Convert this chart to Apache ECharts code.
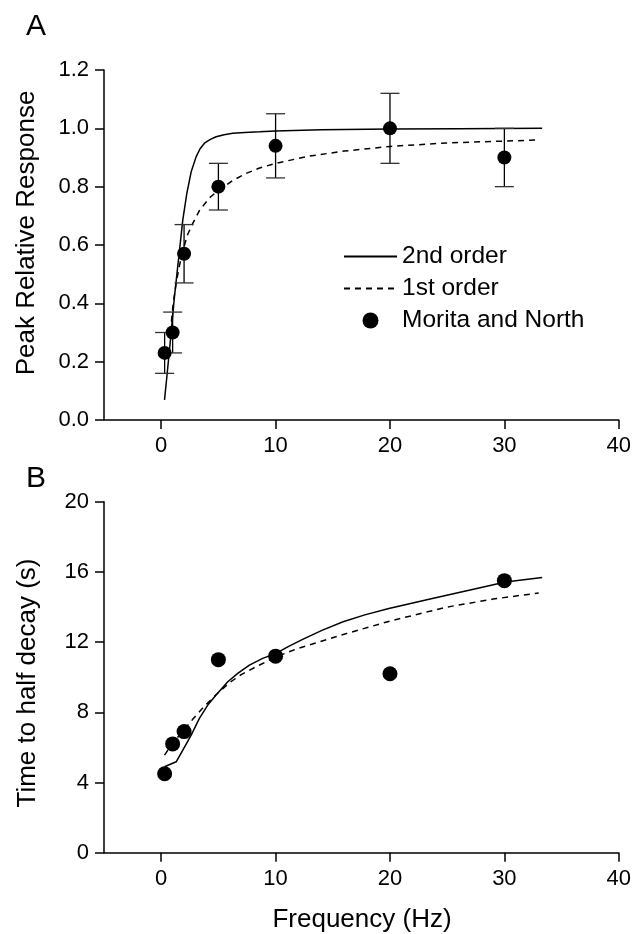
<!DOCTYPE html>
<html><head><meta charset="utf-8">
<script src="https://cdn.jsdelivr.net/npm/echarts@6/dist/echarts.min.js"></script>
<style>html,body{margin:0;padding:0;background:#fff}#c{width:634px;height:934px}</style>
</head><body><div id="c"></div>
<script>
// Data
const freq = [0.3, 1, 2, 5, 10, 20, 30];
const peakResponse = [0.23, 0.30, 0.57, 0.80, 0.94, 1.00, 0.90];
const peakErrLow = [0.16, 0.23, 0.47, 0.72, 0.83, 0.88, 0.80];
const peakErrHigh = [0.30, 0.37, 0.67, 0.88, 1.05, 1.12, 1.00];
const halfDecay = [4.5, 6.2, 6.9, 11.0, 11.2, 10.2, 15.5];

const fitA2ndX = [0.29, 0.5, 0.78, 1.16, 1.54, 1.89, 2.24, 2.62, 3.06, 3.4, 3.78, 4.3, 4.8, 5.5, 6.25, 7.3, 8.6, 10, 14, 20, 26, 33.3];
const fitA2ndY = [0.069, 0.15, 0.263, 0.423, 0.56, 0.686, 0.777, 0.851, 0.903, 0.93, 0.949, 0.962, 0.971, 0.978, 0.983, 0.986, 0.988, 0.991, 0.995, 0.998, 0.999, 1.0];
const fitA1stX = [0.8, 1.05, 1.31, 1.6, 1.89, 2.3, 2.76, 3.34, 4.22, 5.0, 6.25, 7.4, 8.6, 10, 13, 16, 20, 25, 33];
const fitA1stY = [0.30, 0.40, 0.47, 0.53, 0.58, 0.635, 0.674, 0.718, 0.762, 0.787, 0.821, 0.845, 0.864, 0.88, 0.905, 0.922, 0.938, 0.95, 0.96];

const fitB2ndX = [0.29, 1.31, 1.89, 2.62, 3.34, 4.07, 4.8, 5.82, 6.69, 7.71, 8.87, 10.04, 11.06, 12.5, 14.1, 15.9, 17.8, 19.9, 23.7, 27.2, 30.1, 33.3];
const fitB2ndY = [4.9, 5.18, 5.85, 6.7, 7.65, 8.41, 8.98, 9.74, 10.22, 10.69, 11.07, 11.36, 11.73, 12.2, 12.68, 13.16, 13.55, 13.92, 14.49, 15.0, 15.43, 15.68];
const fitB1stX = [0.29, 1, 2, 2.76, 3.78, 4.95, 6, 7, 8.3, 10, 12, 14, 16, 20, 25, 29, 33];
const fitB1stY = [5.56, 6.25, 7.0, 7.6, 8.35, 9.1, 9.7, 10.15, 10.6, 11.15, 11.65, 12.05, 12.45, 13.2, 14.0, 14.45, 14.8];

const xTicks = [0, 10, 20, 30, 40];
const seriesNames = ['2nd order', '1st order', 'Morita and North'];

const zip = (a, b) => a.map((v, i) => [v, b[i]]);
const FONT = "'Liberation Sans', Arial, sans-serif";

function xAxis(grid) {
  return {
    type: 'value', gridIndex: grid, min: -5, max: 40,
    axisLine: { show: true, onZero: false, lineStyle: { color: '#000', width: 1.5 } },
    axisTick: { show: true, length: 9, customValues: xTicks, lineStyle: { color: '#000', width: 1.5 } },
    axisLabel: { customValues: xTicks, fontSize: 22, color: '#000', fontFamily: FONT, margin: 15 },
    splitLine: { show: false }
  };
}
function yAxis(grid, max, interval, fmt) {
  return {
    type: 'value', gridIndex: grid, min: 0, max: max, interval: interval,
    axisLine: { show: true, onZero: false, lineStyle: { color: '#000', width: 1.5 } },
    axisTick: { show: true, length: 9, lineStyle: { color: '#000', width: 1.5 } },
    axisLabel: { fontSize: 22, color: '#000', fontFamily: FONT, margin: 15, formatter: fmt },
    splitLine: { show: false }
  };
}
const lineLegend = { itemStyle: { opacity: 0 } };

const chart = echarts.init(document.getElementById('c'), null, { renderer: 'canvas' });
chart.setOption({
  animation: false,
  backgroundColor: '#fff',
  grid: [
    { left: 104, right: 15, top: 70, height: 350 },
    { left: 104, right: 15, top: 501.7, height: 351 }
  ],
  xAxis: [xAxis(0), xAxis(1)],
  yAxis: [
    yAxis(0, 1.2, 0.2, v => v.toFixed(1)),
    yAxis(1, 20, 4, v => String(v))
  ],
  legend: {
    data: [
      Object.assign({ name: seriesNames[0] }, lineLegend),
      Object.assign({ name: seriesNames[1] }, lineLegend),
      { name: seriesNames[2] }
    ],
    orient: 'vertical', left: 343, top: 244, padding: 0,
    itemWidth: 53, itemHeight: 16, itemGap: 7,
    textStyle: { fontSize: 24.5, color: '#000', fontFamily: FONT },
    selectedMode: false
  },
  graphic: [
    { type: 'text', left: 26, top: 12, style: { text: 'A', fontSize: 30, fill: '#000', fontFamily: FONT } },
    { type: 'text', left: 26, top: 464, style: { text: 'B', fontSize: 30, fill: '#000', fontFamily: FONT } },
    { type: 'text', x: 27, y: 233, rotation: Math.PI / 2,
      style: { text: 'Peak Relative Response', fontSize: 26, fill: '#000', fontFamily: FONT, align: 'center', verticalAlign: 'middle' } },
    { type: 'text', x: 28, y: 683, rotation: Math.PI / 2,
      style: { text: 'Time to half decay (s)', fontSize: 26, fill: '#000', fontFamily: FONT, align: 'center', verticalAlign: 'middle' } },
    { type: 'text', x: 362, y: 920,
      style: { text: 'Frequency (Hz)', fontSize: 26, fill: '#000', fontFamily: FONT, align: 'center', verticalAlign: 'middle' } }
  ],
  series: [
    { name: seriesNames[0], type: 'line', xAxisIndex: 0, yAxisIndex: 0, data: zip(fitA2ndX, fitA2ndY),
      symbol: 'none', smooth: false, lineStyle: { color: '#000', width: 1.5 }, itemStyle: { color: '#000' }, z: 2 },
    { name: seriesNames[1], type: 'line', xAxisIndex: 0, yAxisIndex: 0, data: zip(fitA1stX, fitA1stY),
      symbol: 'none', smooth: false, lineStyle: { color: '#000', width: 1.5, type: [6, 5] }, itemStyle: { color: '#000' }, z: 2 },
    { type: 'custom', xAxisIndex: 0, yAxisIndex: 0, silent: true, z: 3,
      data: freq.map((f, i) => [f, peakErrLow[i], peakErrHigh[i]]),
      encode: { x: 0, y: [1, 2] },
      renderItem: function (params, api) {
        const x = api.value(0);
        const lo = api.coord([x, api.value(1)]);
        const hi = api.coord([x, api.value(2)]);
        const hw = 9.5;
        return { type: 'group', children: [
          { type: 'line', shape: { x1: lo[0], y1: lo[1], x2: hi[0], y2: hi[1] }, style: { stroke: '#000', lineWidth: 1.3 } },
          { type: 'line', shape: { x1: hi[0] - hw, y1: hi[1], x2: hi[0] + hw, y2: hi[1] }, style: { stroke: '#333', lineWidth: 1.3 } },
          { type: 'line', shape: { x1: lo[0] - hw, y1: lo[1], x2: lo[0] + hw, y2: lo[1] }, style: { stroke: '#333', lineWidth: 1.3 } }
        ] };
      } },
    { name: seriesNames[2], type: 'scatter', xAxisIndex: 0, yAxisIndex: 0, data: zip(freq, peakResponse),
      symbol: 'circle', symbolSize: 14, itemStyle: { color: '#000', opacity: 1 }, z: 4 },
    { name: seriesNames[0], type: 'line', xAxisIndex: 1, yAxisIndex: 1, data: zip(fitB2ndX, fitB2ndY),
      symbol: 'none', smooth: false, lineStyle: { color: '#000', width: 1.5 }, itemStyle: { color: '#000' }, z: 2 },
    { name: seriesNames[1], type: 'line', xAxisIndex: 1, yAxisIndex: 1, data: zip(fitB1stX, fitB1stY),
      symbol: 'none', smooth: false, lineStyle: { color: '#000', width: 1.5, type: [6, 5] }, itemStyle: { color: '#000' }, z: 2 },
    { name: seriesNames[2], type: 'scatter', xAxisIndex: 1, yAxisIndex: 1, data: zip(freq, halfDecay),
      symbol: 'circle', symbolSize: 15, itemStyle: { color: '#000', opacity: 1 }, z: 4 }
  ]
});
</script>
</body></html>
